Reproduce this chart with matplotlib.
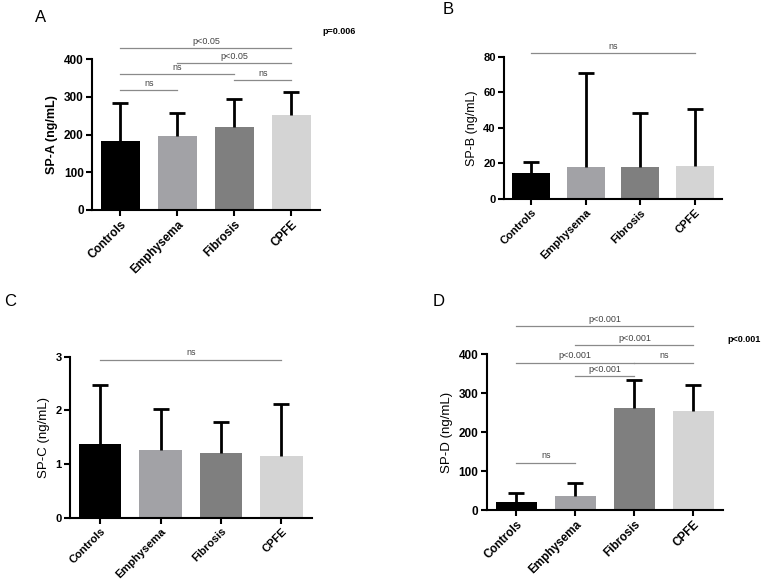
import numpy as np
import matplotlib
matplotlib.use('Agg')
import matplotlib.pyplot as plt

plt.rcParams['font.family'] = ['Liberation Sans', 'DejaVu Sans']

# ── Data ─────────────────────────────────────────────────────────────────────
groups = ['Controls', 'Emphysema', 'Fibrosis', 'CPFE']
bar_colors = ['#000000', '#a2a2a6', '#7f7f7f', '#d4d4d4']

spa_mean = [182, 196, 220, 253]
spa_upper = [285, 257, 294, 314]

spb_mean = [14.4, 17.8, 18.1, 18.5]
spb_upper = [20.6, 70.9, 48.1, 50.7]

spc_mean = [1.38, 1.27, 1.20, 1.14]
spc_upper = [2.47, 2.03, 1.78, 2.12]

spd_mean = [20, 37, 262, 253]
spd_upper = [44, 70, 333, 321]

# brackets: (group i, group j, y level, label)
spa_brackets = [(0, 3, 429, 'p<0.05'), (1, 3, 389, 'p<0.05'),
                (0, 2, 361, 'ns'), (2, 3, 345, 'ns'), (0, 1, 318, 'ns')]
spb_brackets = [(0, 3, 82, 'ns')]
spc_brackets = [(0, 3, 2.94, 'ns')]
spd_brackets = [(0, 3, 472, 'p<0.001'), (1, 3, 423, 'p<0.001'),
                (0, 2, 378, 'p<0.001'), (2, 3, 378, 'ns'),
                (1, 2, 344, 'p<0.001'), (0, 1, 121, 'ns')]


def panel(rect, means, upper, brackets, ylabel, yticks, ylab_weight, tick_fs,
          ylab_fs):
    ax = fig.add_axes(rect)
    x = np.arange(len(groups))
    err = np.array(upper) - np.array(means)
    ax.bar(x, means, 0.7, color=bar_colors, zorder=2)
    eb = ax.errorbar(x, means, yerr=[np.zeros_like(err), err], fmt='none',
                     ecolor='black', elinewidth=2, capsize=6, capthick=2,
                     zorder=3)
    eb[1][0].set_visible(False)   # hide the lower caps
    ax.set_xlim(-0.5, 3.5)
    ax.set_ylim(yticks[0], yticks[-1])
    ax.set_yticks(yticks)
    ax.set_xticks(x)
    ax.set_xticklabels(groups, rotation=45, ha='right', rotation_mode='anchor',
                       fontsize=tick_fs, fontweight='bold')
    for lab in ax.get_yticklabels():
        lab.set_fontweight('bold')
        lab.set_fontsize(tick_fs)
    ax.set_ylabel(ylabel, fontsize=ylab_fs, fontweight=ylab_weight, labelpad=4)
    for s in ['top', 'right']:
        ax.spines[s].set_visible(False)
    for s in ['left', 'bottom']:
        ax.spines[s].set_linewidth(1.5)
    ax.tick_params(width=1.5, length=4, pad=2)
    yr = yticks[-1] - yticks[0]
    for i, j, y, txt in brackets:
        ax.plot([i, j], [y, y], color='#8a8a8a', lw=0.9, clip_on=False)
        ax.text((i + j) / 2, y + yr * 0.015, txt, ha='center', va='bottom',
                fontsize=6.5, color='#444444')
    return ax


fig = plt.figure(figsize=(7.64, 5.81), dpi=100)

axA = panel([0.1204, 0.6386, 0.2984, 0.2594], spa_mean, spa_upper, spa_brackets,
            'SP-A (ng/mL)', [0, 100, 200, 300, 400], 'bold', 8.5, 9)
axB = panel([0.6597, 0.6575, 0.2853, 0.2449], spb_mean, spb_upper, spb_brackets,
            'SP-B (ng/mL)', [0, 20, 40, 60, 80], 'normal', 8, 9)
axC = panel([0.0916, 0.1090, 0.3164, 0.2771], spc_mean, spc_upper, spc_brackets,
            'SP-C (ng/mL)', [0, 1, 2, 3], 'normal', 8, 9.5)
axD = panel([0.6370, 0.1222, 0.3093, 0.2685], spd_mean, spd_upper, spd_brackets,
            'SP-D (ng/mL)', [0, 100, 200, 300, 400], 'normal', 8.5, 9.5)

fig.text(35 / 764, 1 - 17 / 581, 'A', fontsize=12, va='center', ha='left')
fig.text(443 / 764, 1 - 9 / 581, 'B', fontsize=12, va='center', ha='left')
fig.text(4 / 764, 1 - 301 / 581, 'C', fontsize=12, va='center', ha='left')
fig.text(433 / 764, 1 - 302 / 581, 'D', fontsize=12, va='center', ha='left')

fig.text(322 / 764, 1 - 31 / 581, 'p=0.006', fontsize=6.5, fontweight='bold',
         va='center', ha='left')
fig.text(727 / 764, 1 - 340 / 581, 'p<0.001', fontsize=6.5, fontweight='bold',
         va='center', ha='left')

plt.savefig('out.png', dpi=100, facecolor='white')
